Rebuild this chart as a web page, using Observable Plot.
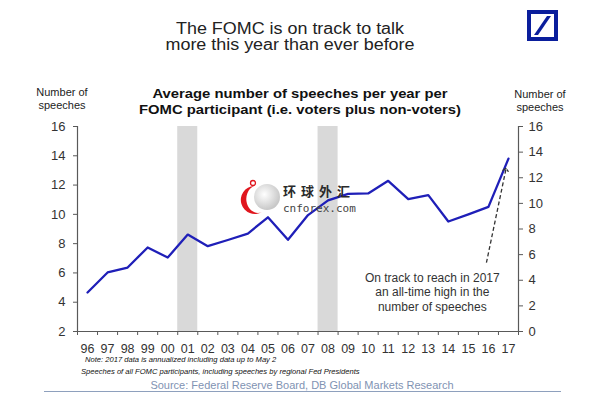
<!DOCTYPE html>
<html>
<head>
<meta charset="utf-8">
<script src="https://cdn.jsdelivr.net/npm/d3@7"></script>
<script src="https://cdn.jsdelivr.net/npm/@observablehq/plot@0.6"></script>
<style>
  body { margin: 0; background: #fff; }
  #wrap { position: relative; width: 600px; height: 394px; overflow: hidden;
          font-family: "Liberation Sans", Arial, sans-serif; color: #222; }
  .abs { position: absolute; white-space: nowrap; }
  #title { left: -10px; width: 600px; top: 21px; text-align: center; font-size: 16px; line-height: 15.7px;
           color: #222; transform: scaleX(1.12); transform-origin: 300px 0; }
  #subtitle { left: 0; width: 600px; top: 86px; text-align: center; font-size: 13px; font-weight: bold;
              line-height: 16px; color: #111; transform: scaleX(1.14); transform-origin: 300px 0; }
  .ylab { font-size: 11px; line-height: 13.5px; text-align: center; width: 80px; color: #222; }
  #ylabL { left: 22px; top: 85.5px; }
  #ylabR { left: 500px; top: 87.5px; }
  #chart { left: 0; top: 116px; }
  .note { font-size: 7.6px; font-style: italic; color: #111; }
  #note1 { left: 85px; top: 355px; }
  #note2 { left: 81px; top: 367px; }
  #source { left: 0; width: 604px; text-align: center; top: 379px; font-size: 11px; color: #7f93b3; }
  #rule { left: 44px; top: 391px; width: 517px; height: 0; border-top: 1.5px solid #8ea0bd; }
  #wmcn { left: 283px; top: 184px; font-family: "Noto Sans CJK SC", sans-serif; font-weight: bold;
          font-size: 13px; line-height: 13px; letter-spacing: 5px; color: #2a2a2a; }
  #wmen { left: 283px; top: 203px; font-family: "DejaVu Sans Mono", monospace; font-size: 11px; line-height: 11px; color: #444; }
</style>
</head>
<body>
<div id="wrap">
  <div id="title" class="abs">The FOMC is on track to talk<br>more this year than ever before</div>
  <svg class="abs" style="left:527px;top:10px" width="31" height="31" viewBox="0 0 31 31">
    <rect x="2" y="2" width="27" height="27" fill="none" stroke="#0a1e9c" stroke-width="4"/>
    <polygon points="7,25 11,25 24,6 20,6" fill="#0a1e9c"/>
  </svg>
  <div id="subtitle" class="abs">Average number of speeches per year per<br>FOMC participant (i.e. voters plus non-voters)</div>
  <div id="ylabL" class="abs ylab">Number of<br>speeches</div>
  <div id="ylabR" class="abs ylab">Number of<br>speeches</div>
  <div id="chart" class="abs"></div>
  <svg class="abs" style="left:240px;top:176px" width="46" height="40" viewBox="0 0 46 40">
    <defs>
      <radialGradient id="g" cx="40%" cy="40%" r="60%">
        <stop offset="0%" stop-color="#ffffff"/>
        <stop offset="100%" stop-color="#c8c8c8"/>
      </radialGradient>
    </defs>
    <path d="M 14 10 A 14 14 0 1 0 22 36 A 11 13 0 1 1 14 10 Z" fill="#e0161e"/>
    <circle cx="13" cy="7" r="2.5" fill="none" stroke="#e0161e" stroke-width="1.3"/>
    <circle cx="27" cy="21" r="13" fill="url(#g)"/>
  </svg>
  <div id="wmcn" class="abs">环球外汇</div>
  <div id="wmen" class="abs">cnforex.com</div>
  <div id="note1" class="abs note">Note: 2017 data is annualized including data up to May 2</div>
  <div id="note2" class="abs note">Speeches of all FOMC participants, including speeches by regional Fed Presidents</div>
  <div id="source" class="abs">Source: Federal Reserve Board, DB Global Markets Research</div>
  <div id="rule" class="abs"></div>
</div>
<script>
// ---- data ----
const years = [1996,1997,1998,1999,2000,2001,2002,2003,2004,2005,2006,2007,2008,2009,2010,2011,2012,2013,2014,2015,2016,2017];
const yearLabels = ["96","97","98","99","00","01","02","03","04","05","06","07","08","09","10","11","12","13","14","15","16","17"];
const speeches = [4.66,6.03,6.37,7.74,7.05,8.62,7.83,8.25,8.69,9.8,8.26,9.95,10.95,11.4,11.43,12.29,11.04,11.31,9.51,10.0,10.51,13.81];
const recessionYears = [2001, 2008];
const leftTicks = [2,4,6,8,10,12,14,16];
const rightTicks = [0,2,4,6,8,10,12,14,16];
const xDomain = [1995.5, 2017.5];
const yDomain = [2, 16];
const rightDomain = [0, 16];
const annotation = [{x: 2013.2, y: 4.73, text: "On track to reach in 2017\nan all-time high in the\nnumber of speeches"}];
const arrowPath = [{x1: 2015.9, y1: 6.7, x2: 2016.87, y2: 13.06}];

// ---- build ----
const data = years.map((y, i) => ({year: y, value: speeches[i]}));
const toLeft = r => yDomain[0] + (r - rightDomain[0]) * (yDomain[1] - yDomain[0]) / (rightDomain[1] - rightDomain[0]);
const fromLeft = v => Math.round(rightDomain[0] + (v - yDomain[0]) * (rightDomain[1] - rightDomain[0]) / (yDomain[1] - yDomain[0]));
const bounds = years.map(y => y - 0.5).concat([years[years.length - 1] + 0.5]);
const axisColor = "#595959";

const chart = Plot.plot({
  width: 600,
  height: 240,
  marginTop: 10,
  marginBottom: 25,
  marginLeft: 77,
  marginRight: 82,
  style: {fontFamily: "'Liberation Sans', Arial, sans-serif", fontSize: "13px", color: "#333", background: "transparent", overflow: "visible"},
  x: {domain: xDomain},
  y: {domain: yDomain},
  marks: [
    Plot.rect(recessionYears, {x1: d => d - 0.5, x2: d => d + 0.5, fill: "#d9d9d9"}),
    Plot.ruleX(xDomain, {stroke: axisColor, strokeWidth: 1.2}),
    Plot.ruleY([yDomain[0]], {stroke: axisColor, strokeWidth: 1.2}),
    Plot.axisY(leftTicks, {anchor: "left", tickSize: 4, tickPadding: 8, stroke: axisColor, fill: "#333", label: null}),
    Plot.axisY(rightTicks.map(toLeft), {anchor: "right", tickSize: 4, tickPadding: 6, stroke: axisColor, fill: "#333", label: null, tickFormat: fromLeft}),
    Plot.axisX(bounds, {anchor: "bottom", tickSize: 4, tickFormat: () => "", stroke: axisColor, label: null}),
    Plot.axisX(years, {anchor: "bottom", tickSize: 0, tickPadding: 13, fontSize: 12.5, fill: "#333", label: null,
      tickFormat: d => yearLabels[years.indexOf(d)]}),
    Plot.line(data, {x: "year", y: "value", stroke: "#1f1fb8", strokeWidth: 2.3}),
    Plot.link(arrowPath, {x1: "x1", y1: "y1", x2: "x2", y2: "y2", stroke: "#333", strokeWidth: 1.3, strokeDasharray: "4,2.5", markerEnd: "arrow"}),
    Plot.text(annotation, {x: "x", y: "y", text: "text", fontSize: 12, lineHeight: 1.2, fill: "#333"})
  ]
});
chart.style.display = "block";
document.getElementById("chart").appendChild(chart);
</script>
</body>
</html>
